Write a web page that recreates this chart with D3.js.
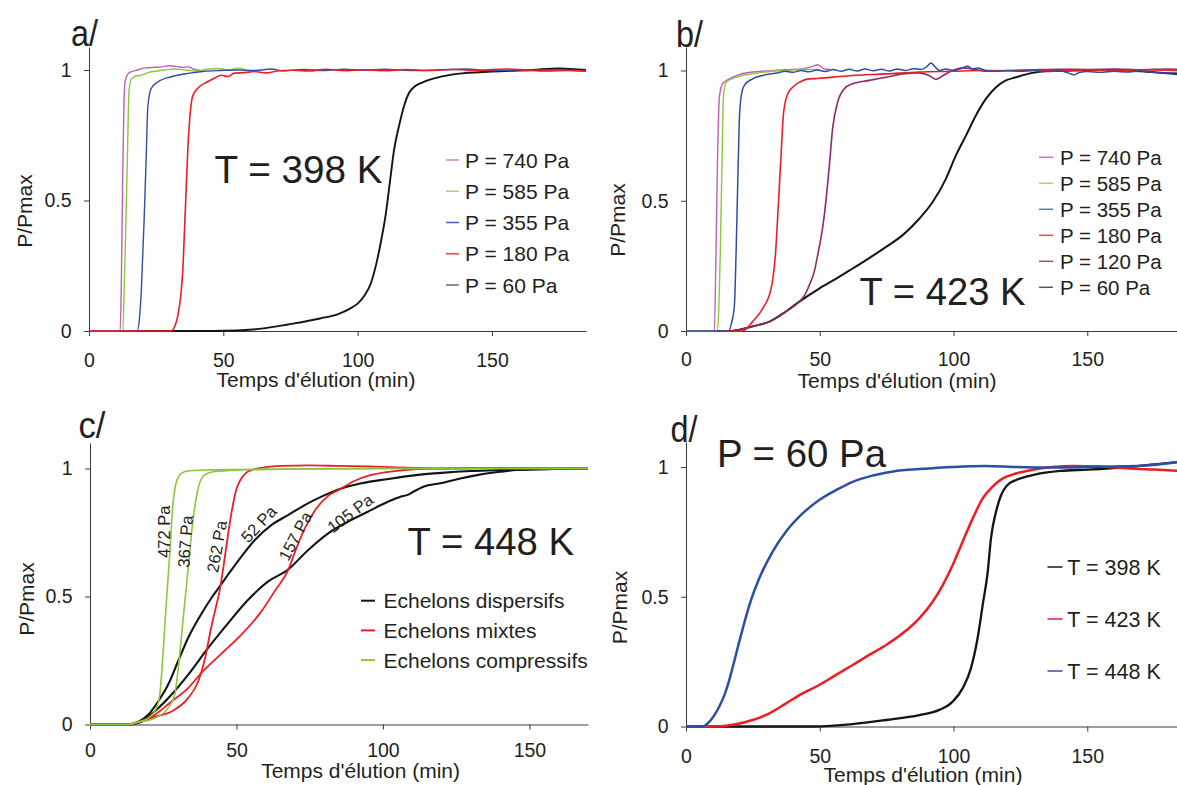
<!DOCTYPE html>
<html><head><meta charset="utf-8">
<script src="https://cdn.jsdelivr.net/npm/d3@7/dist/d3.min.js"></script>
<style>
body{margin:0;background:#fff}
svg{display:block}
text{font-family:"Liberation Sans",Arial,Helvetica,sans-serif;fill:#231f20}
</style>
</head><body>
<script>
// ---------- shared axis data ----------
const xTicks = [0, 50, 100, 150];
const yTicks = [0, 0.5, 1];
const xTitle = "Temps d'élution (min)";
const yTitle = "P/Pmax";

// ---------- panel a : T = 398 K ----------
const aLabels = ["P = 740 Pa", "P = 585 Pa", "P = 355 Pa", "P = 180 Pa", "P = 60 Pa"];
const a740 = [[0,0],[11.6,0],[12.0,0.16],[12.5,0.55],[13.0,0.87],[13.5,0.96],[15,0.99],[18,1.0],[21,1.008],[24,1.01],[27,1.012],[30,1.016],[33,1.013],[35,1.01],[37,1.012],[39,1.003],[41.7,0.998]];
const a585 = [[0,0],[12.6,0],[13.2,0.2],[13.6,0.35],[14.3,0.67],[14.9,0.92],[15.7,0.965],[17,0.975],[19.5,0.98],[22,0.99],[24.5,0.995],[28,1.0],[32,1.004],[36,1.0],[40,0.996],[44,1.003],[48,1.006],[52,1.0],[55,1.007],[58,1.002]];
const a355 = [[0,0],[17.9,0],[18.8,0.05],[19.5,0.16],[20.5,0.42],[21.3,0.67],[21.9,0.86],[23.2,0.93],[25.7,0.955],[30.6,0.974],[36.8,0.987],[43,0.995],[49,0.998],[55,1.0],[62,0.998],[68,1.004],[72,0.997],[80,1.002],[88,0.998],[95,1.003],[102,0.999],[110,1.003],[120,0.998],[130,1.0],[140,1.004],[150,0.997],[160,1.0],[170,0.996],[178,0.998],[185,0.995]];
const a180 = [[0,0],[30.6,0],[32,0.02],[33.1,0.06],[34.2,0.14],[34.9,0.23],[35.6,0.4],[36.2,0.55],[36.8,0.7],[37.4,0.8],[38.6,0.9],[40.5,0.93],[44.2,0.955],[47,0.97],[49.2,0.98],[51.7,0.975],[54.1,0.988],[58,0.99],[61.5,0.994],[66,0.989],[70,0.996],[76,0.999],[82,0.996],[88,1.003],[95,0.997],[102,1.001],[110,0.997],[118,1.002],[126,0.998],[135,1.002],[145,0.999],[155,1.004],[165,0.999],[175,1.0],[185,0.997]];
const a60 = [[0,0],[37,0],[55,0.002],[65,0.01],[74,0.025],[86,0.048],[93,0.066],[97,0.085],[100,0.105],[102.5,0.135],[105,0.185],[107,0.26],[109,0.36],[110.5,0.45],[112,0.57],[113.5,0.69],[115.5,0.79],[117.5,0.87],[119,0.91],[121,0.935],[124,0.952],[130,0.972],[137,0.985],[150,0.994],[165,1.0],[175,1.006],[185,1.0]];

// ---------- panel b : T = 423 K ----------
const bLabels = ["P = 740 Pa", "P = 585 Pa", "P = 355 Pa", "P = 180 Pa", "P = 120 Pa", "P = 60 Pa"];
const b740 = [[0,0],[10.6,0],[11.2,0.29],[11.8,0.67],[12.5,0.9],[13.7,0.95],[16.2,0.968],[20,0.985],[24.9,0.994],[30,0.998],[37.4,1.003],[43.6,1.006],[46,1.012],[47.4,1.016],[49.2,1.022],[50.5,1.015],[51.5,1.006],[53.7,1.004]];
const b585 = [[0,0],[11.8,0],[12.3,0.1],[12.8,0.29],[13.5,0.67],[14,0.9],[15,0.955],[18.7,0.974],[24.9,0.987],[31.2,0.996],[37.4,1.0],[43.6,1.004],[50,1.004]];
const b355 = [[0,0],[16,0],[17,0.03],[18.1,0.1],[18.7,0.29],[19.3,0.55],[19.9,0.8],[20.6,0.9],[21.8,0.943],[24.9,0.968],[28.7,0.981],[31.2,0.987],[34,0.99],[37,0.997],[40,0.993],[43,1.0],[46,0.995],[49,1.002],[52,0.996],[55,1.004],[58,0.997],[61,1.005],[64,0.998],[67,1.006],[70,0.999],[73,1.005],[76,0.998],[79,1.006],[82,1.0],[85,1.007],[88,1.004],[90,1.015],[91.6,1.029],[93,1.015],[94.7,1.0],[97,1.006],[100,1.0],[103,1.008],[105.3,1.016],[107,1.006],[109,1.01],[112,1.0],[115,0.997],[120,1.0],[125,0.997],[130,1.0],[135,0.996],[140,0.998],[143,0.99],[145,0.984],[147,0.992],[150,0.996],[155,0.993],[160,0.997],[165,0.994],[170,0.998],[175,0.993],[180,0.99],[185,0.99]];
const b180 = [[0,0],[21.2,0],[24.9,0.036],[28.7,0.087],[31.8,0.163],[33.4,0.29],[34.5,0.48],[35.5,0.67],[36.5,0.84],[38,0.91],[39.9,0.936],[42.4,0.955],[44.9,0.966],[49.8,0.97],[62.3,0.981],[74.8,0.987],[87.2,0.994],[99.7,0.997],[110,1.0],[120,0.999],[130,1.001],[140,1.0],[150,1.002],[160,1.0],[170,1.003],[185,1.0]];
const b120 = [[0,0],[16,0],[20,0.005],[25,0.018],[31.2,0.036],[37.4,0.075],[42.4,0.113],[44.5,0.14],[46.1,0.176],[48,0.23],[49.2,0.29],[50.5,0.36],[51.7,0.444],[52.7,0.54],[53.6,0.636],[54.8,0.777],[56.7,0.879],[59.2,0.93],[62.3,0.949],[68.5,0.962],[74.8,0.974],[81,0.987],[87.2,0.991],[91,0.98],[93.5,0.966],[96,0.98],[99.7,1.0],[103.4,1.01],[107.2,1.006],[112,0.997],[120,1.0],[130,1.003],[140,1.005],[150,1.004],[160,1.006],[170,1.003],[180,1.006],[185,1.004]];
const b60 = [[0,0],[16,0],[20,0.005],[25,0.018],[31.2,0.036],[37.4,0.075],[42.4,0.113],[49.8,0.163],[56,0.2],[62.3,0.24],[68.5,0.28],[74.8,0.323],[81,0.368],[87.2,0.431],[92.2,0.495],[97.2,0.585],[100.9,0.674],[104.7,0.751],[108.4,0.828],[112.1,0.891],[115.9,0.936],[119.6,0.962],[123.4,0.974],[129,0.99],[135,0.998],[145,1.0],[155,1.002],[165,1.0],[175,0.993],[185,0.985]];

// ---------- panel c : T = 448 K ----------
const cLabels = ["Echelons dispersifs", "Echelons mixtes", "Echelons compressifs"];
const cCurveNames = ["472 Pa", "367 Pa", "262 Pa", "52 Pa", "157 Pa", "105 Pa"];
const cCurveNameAt = [[25.2,0.753,-90],[32.5,0.715,-86],[43.3,0.695,-80],[57.6,0.783,-47],[70.1,0.736,-62],[88.8,0.825,-37]];
const c472 = [[0,0],[12.9,0],[16,0.008],[19.8,0.024],[22.6,0.063],[23.8,0.115],[24.9,0.271],[26,0.467],[27.2,0.662],[28.3,0.857],[29.5,0.948],[31.2,0.981],[33.4,0.99],[39.1,0.994],[50,0.996],[70,0.998],[100,1.0],[130,1.0],[170,1.0]];
const c367 = [[0,0],[12.9,0],[16,0.008],[22,0.024],[26.6,0.063],[28.9,0.115],[30,0.206],[31.7,0.401],[33.4,0.597],[35.1,0.792],[36.9,0.922],[39.1,0.975],[42.5,0.988],[50.5,0.994],[70,0.998],[100,1.0],[170,1.0]];
const c262 = [[0,0],[12.9,0],[16.4,0.008],[22,0.03],[27.7,0.05],[33.4,0.102],[36.9,0.167],[39.1,0.25],[41.4,0.38],[43,0.46],[44.3,0.525],[45.6,0.62],[47.1,0.74],[48.5,0.84],[50,0.92],[51.6,0.96],[53.5,0.985],[56,0.997],[60,1.005],[65,1.01],[75,1.012],[85,1.01],[95,1.008],[105,1.004],[120,1.0],[140,1.002],[170,1.0]];
const c157 = [[0,0],[12.9,0],[16.4,0.01],[22,0.037],[27.7,0.089],[33.4,0.141],[37.9,0.2],[44.7,0.275],[51.6,0.35],[58.4,0.44],[63,0.52],[67.7,0.605],[70.5,0.69],[73.5,0.77],[77,0.84],[81,0.89],[85.5,0.92],[90,0.95],[96,0.975],[104,0.99],[112,0.998],[120,1.0],[140,1.002],[170,1.0]];
const c52 = [[0,0],[12.9,0],[16.4,0.01],[19.8,0.037],[23.2,0.089],[26.6,0.154],[30,0.245],[33.4,0.336],[37.9,0.43],[41.8,0.5],[44.3,0.54],[47.1,0.585],[51.6,0.655],[56.2,0.72],[61.9,0.779],[67.6,0.818],[73.3,0.857],[79,0.89],[85.8,0.922],[92.6,0.942],[101.7,0.959],[111.9,0.975],[120,0.983],[130,0.99],[140,0.994],[150,0.997],[160,0.998],[170,0.998]];
const c105 = [[0,0],[12.9,0],[17.5,0.01],[22,0.05],[27.7,0.115],[33.4,0.193],[40.2,0.297],[47.1,0.395],[53.9,0.486],[60.7,0.558],[67.6,0.605],[74.4,0.681],[81.2,0.746],[88,0.792],[94.8,0.831],[101.7,0.87],[106,0.89],[108.5,0.897],[110.5,0.91],[114,0.93],[119.5,0.942],[126,0.96],[132.6,0.975],[140,0.987],[145.6,0.994],[158.7,0.998],[170,1.0]];

// ---------- panel d : P = 60 Pa ----------
const dLabels = ["T = 398 K", "T = 423 K", "T = 448 K"];
const d398 = [[0,0],[47.4,0],[62.3,0.009],[74.8,0.025],[87.2,0.044],[94.7,0.064],[99.7,0.096],[103.4,0.147],[106.5,0.224],[109,0.34],[110.9,0.468],[112.8,0.597],[114,0.725],[115.9,0.828],[117.8,0.892],[120.2,0.931],[123.4,0.95],[130,0.97],[140,0.985],[150,0.99],[165,1.0],[175,1.01],[185,1.02]];
const d423 = [[0,0],[10,0],[18.7,0.009],[24.9,0.025],[31.2,0.051],[37.4,0.089],[43.6,0.128],[49.8,0.16],[56.1,0.199],[62.3,0.237],[68.5,0.276],[74.8,0.314],[81,0.359],[87.2,0.417],[92.2,0.481],[96,0.545],[99.7,0.622],[103.4,0.712],[107.2,0.802],[110.9,0.879],[114.6,0.924],[118.4,0.956],[123.4,0.975],[130,0.99],[137,1.0],[145,1.004],[155,1.002],[165,0.995],[175,0.99],[185,0.985]];
const d448 = [[0,0],[6.2,0],[8.7,0.018],[10.5,0.042],[12.5,0.078],[14.5,0.125],[16.2,0.18],[18,0.25],[19.9,0.327],[21.8,0.4],[23.7,0.468],[27.4,0.571],[32.4,0.674],[37.4,0.751],[43.6,0.821],[49.8,0.873],[56.1,0.911],[62.3,0.943],[69.8,0.967],[78.5,0.985],[87.2,0.992],[99.7,1.0],[112,1.004],[123.4,1.0],[135,0.998],[150,1.0],[160,1.002],[170,1.005],[178,1.012],[185,1.02]];

// ---------- colours ----------
const C = {mag:"#c55db4", grn:"#8dc63f", blu:"#2d4fa2", red:"#ee1d23", pur:"#8d2a6c", blk:"#141414"};

const svg = d3.select("body").append("svg").attr("width",1177).attr("height",785);
svg.append("rect").attr("width",1177).attr("height",785).attr("fill","#fff");

function panel(cfg){
  const g = svg.append("g");
  const x = d3.scaleLinear().domain([0,cfg.xmax]).range([cfg.x0,cfg.x1]);
  const ymax = (cfg.yb - cfg.yTop)/(cfg.yb - cfg.y1);
  const y = d3.scaleLinear().domain([0,ymax]).range([cfg.yb,cfg.yTop]);

  const xa = g.append("g").attr("transform",`translate(0,${cfg.yb})`)
    .call(d3.axisBottom(x).tickValues(xTicks).tickFormat(d3.format("d")).tickSize(5).tickSizeOuter(0).tickPadding(cfg.xpad));
  const ya = g.append("g").attr("transform",`translate(${cfg.x0},0)`)
    .call(d3.axisLeft(y).tickValues(yTicks).tickFormat(d=>d===0.5?"0.5":String(d)).tickSize(5).tickSizeOuter(0).tickPadding(12.5));
  [xa,ya].forEach(a=>{
    a.attr("font-family",null).attr("font-size",null);
    a.selectAll("path,line").attr("stroke","#3a3a3a").attr("stroke-width",1);
    a.selectAll("text").attr("font-size","19.5px").attr("fill","#231f20");
  });

  const line = d3.line().x(d=>x(d[0])).y(d=>y(d[1])).curve(d3.curveMonotoneX);
  cfg.series.forEach(s=>{
    g.append("path").attr("d",line(s.data)).attr("fill","none")
      .attr("stroke",s.color).attr("stroke-width",s.w).attr("stroke-linejoin","round");
  });

  // axis titles
  g.append("text").attr("x",cfg.xtx).attr("y",cfg.xty).attr("text-anchor","middle")
    .attr("font-size","21px").text(xTitle);
  g.append("text").attr("transform",`translate(${cfg.ytx},${cfg.yty}) rotate(-90)`)
    .attr("text-anchor","middle").attr("font-size","21px").text(yTitle);
  // panel letter
  g.append("text").attr("x",cfg.lx).attr("y",cfg.ly).attr("font-size","36px")
    .attr("textLength",27).attr("lengthAdjust","spacingAndGlyphs").text(cfg.letter);
  // big annotation
  g.append("text").attr("x",cfg.bx).attr("y",cfg.by).attr("font-size","39px")
    .attr("textLength",cfg.bw).attr("lengthAdjust","spacingAndGlyphs").text(cfg.big);
  // legend
  cfg.legend.labels.forEach((lab,i)=>{
    const yy = cfg.legend.y + i*cfg.legend.dy;
    g.append("line").attr("x1",cfg.legend.lx1).attr("x2",cfg.legend.lx2).attr("y1",yy).attr("y2",yy)
      .attr("stroke",cfg.legend.colors[i]).attr("stroke-width",cfg.legend.lw);
    g.append("text").attr("x",cfg.legend.tx).attr("y",yy).attr("dy","0.36em")
      .attr("font-size",cfg.legend.fs).text(lab);
  });
  return {g,x,y};
}

// panel a
panel({x0:89,x1:586,xmax:185,yb:331,y1:70,yTop:47,xpad:17,
  xtx:316,xty:387,ytx:32,yty:211,lx:71,ly:46,letter:"a/",
  bx:214.5,by:183,bw:168,big:"T = 398 K",
  series:[{data:a60,color:C.blk,w:1.9},{data:a740,color:C.mag,w:1.4},{data:a585,color:C.grn,w:1.4},
          {data:a355,color:C.blu,w:1.4},{data:a180,color:C.red,w:1.6}],
  legend:{labels:aLabels,colors:["#d88bcb","#a9d46e","#4d6cb5","#f0484d","#777"],y:160,dy:31.25,
          lx1:446,lx2:459,lw:1.6,tx:465,fs:"21px"}});

// panel b
panel({x0:686,x1:1180.9,xmax:185,yb:331,y1:70.5,yTop:47,xpad:16.5,
  xtx:897,xty:388,ytx:625,yty:220,lx:676,ly:47,letter:"b/",
  bx:859.5,by:305,bw:166,big:"T = 423 K",
  series:[{data:b60,color:C.blk,w:2},{data:b120,color:C.pur,w:1.6},{data:b180,color:C.red,w:1.6},
          {data:b740,color:C.mag,w:1.4},{data:b585,color:C.grn,w:1.4},{data:b355,color:C.blu,w:1.5}],
  legend:{labels:bLabels,colors:["#c875b9","#a9d46e","#5a76b8","#f0484d","#9b4a7e","#555"],y:157.3,dy:26,
          lx1:1039,lx2:1053,lw:1.5,tx:1060,fs:"20.5px"}});

// panel c
const pc = panel({x0:90,x1:588,xmax:170,yb:724.5,y1:468.5,yTop:443,xpad:13.7,
  xtx:360.6,xty:778,ytx:34,yty:599,lx:78.5,ly:438,letter:"c/",
  bx:407.6,by:555,bw:166.5,big:"T = 448 K",
  series:[{data:c52,color:C.blk,w:2.1},{data:c105,color:C.blk,w:2.1},
          {data:c262,color:C.red,w:1.8},{data:c157,color:C.red,w:1.8},
          {data:c472,color:C.grn,w:1.6},{data:c367,color:C.grn,w:1.6}],
  legend:{labels:cLabels,colors:[C.blk,C.red,C.grn],y:600.7,dy:29.7,
          lx1:361,lx2:375,lw:2,tx:383.5,fs:"21px"}});
cCurveNames.forEach((t,i)=>{
  const p = cCurveNameAt[i];
  pc.g.append("text").attr("transform",`translate(${pc.x(p[0])},${pc.y(p[1])}) rotate(${p[2]})`)
    .attr("text-anchor","middle").attr("dy","0.35em").attr("font-size","16.5px").text(t);
});

// panel d
panel({x0:686,x1:1180.9,xmax:185,yb:726.5,y1:467,yTop:442,xpad:18,
  xtx:923,xty:782,ytx:627,yty:607.5,lx:670.5,ly:442,letter:"d/",
  bx:717,by:466.7,bw:169,big:"P = 60 Pa",
  series:[{data:d398,color:C.blk,w:2.3},{data:d423,color:C.red,w:2.5},{data:d448,color:C.blu,w:2.5}],
  legend:{labels:dLabels,colors:[C.blk,C.red,C.blu],y:567,dy:52,
          lx1:1047.5,lx2:1062.5,lw:1.5,tx:1067.3,fs:"21.5px"}});
</script>
</body></html>
